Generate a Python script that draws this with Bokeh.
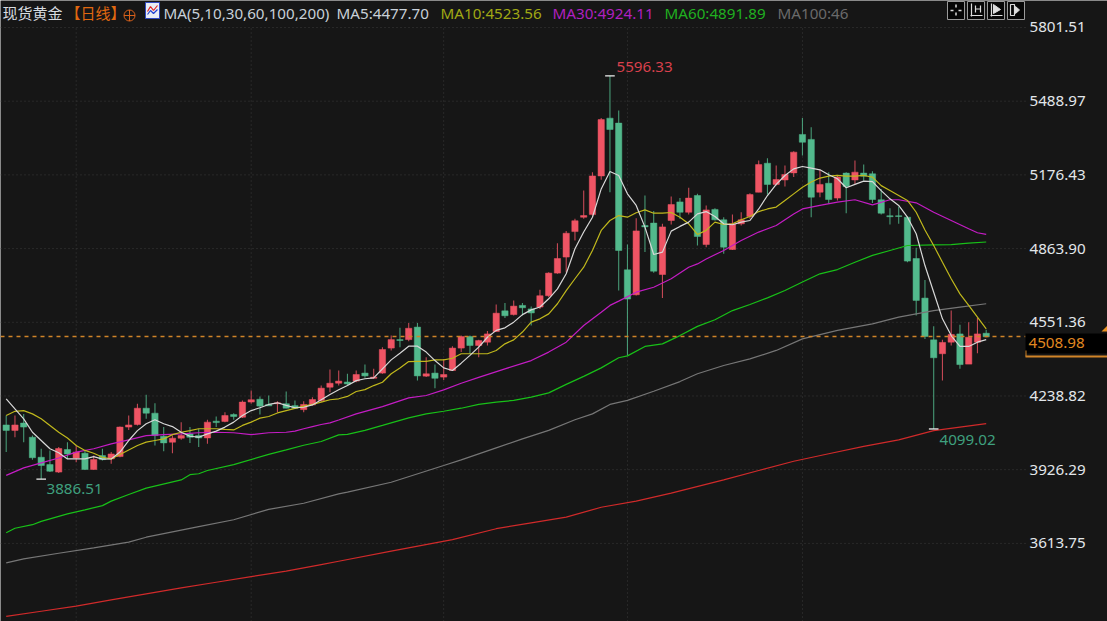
from bokeh.embed import file_html
from bokeh.models import BoxAnnotation, FixedTicker, Label, PolyAnnotation, PrintfTickFormatter, Range1d
from bokeh.plotting import figure, ColumnDataSource
from bokeh.resources import INLINE

# Daily candles, prices
opens = [4116, 4093, 4124, 4064, 3979, 3948, 3916, 4012, 3976, 3996, 3927, 3986, 3972, 3982, 4107, 4118,
         4187, 4166, 4068, 4043, 4060, 4078, 4071, 4061, 4132, 4131, 4160, 4149, 4213, 4225, 4203, 4206,
         4206, 4198, 4181, 4201, 4220, 4276, 4293, 4298, 4302, 4336, 4314, 4336, 4442, 4478, 4478, 4531,
         4323, 4336, 4319, 4347, 4442, 4491, 4453, 4467, 4512, 4600, 4584, 4623, 4608, 4616, 4664, 4760,
         4828, 4936, 4997, 5008, 5172, 5417, 5396, 4774, 4668, 4962, 4972, 4754, 4983, 5062, 5018, 5089,
         4881, 5030, 4986, 4860, 4969, 5000, 5103, 5226, 5136, 5155, 5185, 5348, 5327, 5103, 5141, 5078,
         5184, 5155, 5184, 5181, 5071, 5003, 5003, 4997, 4822, 4654, 4477, 4418, 4467, 4502, 4374, 4467,
         4505]
highs = [4156, 4156, 4163, 4071, 4015, 4008, 4022, 4043, 4029, 4008, 3986, 4015, 4001, 4109, 4156, 4206,
         4244, 4208, 4107, 4071, 4128, 4107, 4100, 4138, 4152, 4170, 4166, 4220, 4262, 4237, 4241, 4217,
         4258, 4220, 4217, 4234, 4283, 4351, 4347, 4333, 4347, 4372, 4354, 4446, 4495, 4528, 4548, 4548,
         4403, 4372, 4396, 4450, 4495, 4495, 4477, 4514, 4627, 4633, 4644, 4633, 4618, 4689, 4764, 4887,
         4938, 4990, 5110, 5188, 5418, 5596.33, 5450, 4881, 4993, 5089, 5023, 4969, 5085, 5078, 5122, 5096,
         5047, 5035, 4997, 5008, 5018, 5099, 5237, 5247, 5216, 5216, 5277, 5418, 5379, 5198, 5188, 5174,
         5188, 5237, 5220, 5192, 5117, 5035, 5042, 5000, 4867, 4731, 4535, 4477, 4601, 4541, 4552, 4570,
         4520]
lows = [4001, 4064, 4043, 3968, 3886.51, 3916, 3912, 3972, 3958, 3926, 3926, 3965, 3951, 3979, 4095, 4114,
        4142, 4029, 4005, 3996, 4053, 4039, 4022, 4036, 4107, 4128, 4138, 4146, 4206, 4160, 4198, 4170,
        4187, 4184, 4170, 4198, 4213, 4255, 4283, 4283, 4297, 4316, 4312, 4333, 4432, 4446, 4471, 4305,
        4319, 4272, 4307, 4347, 4425, 4418, 4403, 4453, 4510, 4570, 4580, 4580, 4538, 4608, 4658, 4757,
        4764, 4898, 4990, 5004, 5156, 5103, 4686, 4411, 4665, 4849, 4761, 4654, 4966, 4990, 5009, 4877,
        4870, 4983, 4842, 4858, 4962, 4990, 5103, 5093, 5131, 5127, 5167, 5259, 4997, 5082, 5054, 5068,
        5014, 5136, 5153, 5057, 5008, 4966, 4969, 4806, 4580, 4481, 4099.02, 4305, 4453, 4354, 4375, 4420,
        4488]
closes = [4093, 4116, 4107, 3977, 3944, 3920, 4016, 3993, 4001, 3927, 3969, 3969, 3993, 4107, 4116, 4187,
          4166, 4071, 4040, 4060, 4071, 4064, 4061, 4128, 4126, 4156, 4152, 4213, 4223, 4196, 4197, 4210,
          4187, 4187, 4203, 4224, 4272, 4293, 4302, 4290, 4330, 4324, 4319, 4436, 4478, 4474, 4526, 4324,
          4333, 4314, 4330, 4442, 4491, 4453, 4474, 4502, 4590, 4579, 4620, 4613, 4591, 4664, 4760, 4822,
          4929, 4982, 5004, 5172, 5411, 5369, 4856, 4650, 4939, 4956, 4768, 4956, 5051, 5018, 5078, 4915,
          5028, 4986, 4870, 4969, 4986, 5093, 5220, 5136, 5157, 5178, 5273, 5315, 5082, 5136, 5072, 5167,
          5127, 5188, 5171, 5072, 5014, 4999, 5000, 4811, 4644, 4491, 4401, 4466, 4500, 4372, 4488, 4502,
          4490]

# Moving averages
ma5 = [4227, 4184, 4142, 4085, 4050, 4015, 3998, 3972, 3972, 3972, 3982, 3971, 3972, 4001, 4050, 4092,
       4121, 4138, 4121, 4109, 4085, 4068, 4064, 4078, 4090, 4107, 4128, 4156, 4177, 4189, 4203, 4210,
       4199, 4189, 4191, 4201, 4223, 4245, 4265, 4283, 4304, 4312, 4316, 4354, 4392, 4420, 4450, 4450,
       4425, 4389, 4358, 4347, 4378, 4411, 4446, 4488, 4517, 4528, 4552, 4584, 4604, 4616, 4651, 4693,
       4757, 4863, 4934, 4997, 5117, 5191, 5174, 5096, 5047, 4955, 4839, 4849, 4938, 4958, 4976, 5011,
       5021, 5000, 4969, 4965, 4976, 4983, 5032, 5089, 5136, 5174, 5202, 5212, 5205, 5198, 5177, 5160,
       5122, 5136, 5150, 5148, 5110, 5075, 5047, 4997, 4927, 4792, 4679, 4566, 4495, 4449, 4449, 4467,
       4477.70]
ma10 = [4156, 4174, 4177, 4163, 4142, 4114, 4085, 4061, 4029, 4008, 3996, 3979, 3972, 3991, 4010, 4029,
        4043, 4050, 4057, 4075, 4085, 4092, 4100, 4100, 4100, 4097, 4095, 4114, 4128, 4145, 4152, 4167,
        4177, 4186, 4196, 4203, 4213, 4223, 4227, 4237, 4258, 4266, 4283, 4297, 4333, 4358, 4385, 4386,
        4386, 4392, 4392, 4399, 4418, 4418, 4418, 4418, 4432, 4460, 4477, 4510, 4552, 4566, 4587, 4630,
        4686, 4736, 4785, 4856, 4941, 4983, 5004, 4997, 5016, 5028, 5014, 5014, 5017, 4997, 4969, 4924,
        4941, 4976, 4966, 4969, 4986, 5000, 5021, 5032, 5040, 5068, 5096, 5124, 5146, 5163, 5171, 5174,
        5171, 5171, 5174, 5167, 5131, 5110, 5089, 5068, 5018, 4943, 4877, 4806, 4736, 4672, 4623, 4573,
        4523.56]
ma30_idx = [0, 2, 4, 6, 8, 10, 12, 14, 16, 18, 20, 22, 24, 26, 28, 30, 32, 33, 34, 35, 36, 37, 38, 40, 43,
            46, 48, 50, 52, 54, 57, 60, 62, 64, 66, 68, 69, 70, 72, 74, 76, 78, 79, 80, 82, 84, 86, 88,
            90, 91, 93, 95, 97, 99, 101, 102, 104, 106, 108, 110, 111, 112]
ma30 = [3902, 3934, 3955, 3976, 4001, 4015, 4036, 4053, 4071, 4075, 4078, 4083, 4085, 4083, 4075, 4083,
        4085, 4090, 4100, 4109, 4118, 4125, 4137, 4163, 4194, 4231, 4241, 4265, 4293, 4318, 4354, 4389,
        4425, 4467, 4538, 4594, 4623, 4641, 4679, 4700, 4736, 4785, 4799, 4820, 4856, 4898, 4934, 4962,
        5011, 5032, 5047, 5061, 5071, 5049, 5071, 5071, 5058, 5018, 4983, 4948, 4931, 4924.11]
ma60_idx = [0, 1, 3, 4, 7, 9, 11, 12, 14, 16, 20, 21, 22, 23, 26, 30, 32, 34, 36, 38, 39, 41, 43, 46, 48,
            50, 52, 54, 56, 58, 60, 62, 64, 66, 68, 70, 71, 73, 75, 77, 79, 81, 83, 85, 87, 89, 91, 93,
            95, 97, 99, 101, 103, 106, 108, 110, 112]
ma60 = [3659, 3678, 3693, 3707, 3739, 3756, 3774, 3793, 3821, 3848, 3883, 3905, 3909, 3923, 3948, 3991,
        4010, 4030, 4046, 4074, 4076, 4093, 4114, 4146, 4163, 4174, 4187, 4203, 4213, 4220, 4234, 4252,
        4288, 4322, 4358, 4401, 4409, 4449, 4460, 4495, 4534, 4562, 4601, 4627, 4655, 4686, 4722, 4757,
        4775, 4806, 4835, 4856, 4877, 4880, 4881, 4887, 4891.89]
ma100_idx = [0, 2, 6, 10, 14, 16, 22, 26, 30, 34, 38, 39, 44, 50, 52, 56, 59, 62, 65, 67, 69, 71, 74, 77,
             79, 82, 85, 88, 91, 95, 99, 102, 106, 109, 112]
ma100 = [3531, 3548, 3572, 3595, 3619, 3640, 3685, 3714, 3758, 3784, 3824, 3831, 3873, 3944, 3968, 4019,
         4057, 4093, 4138, 4163, 4203, 4220, 4259, 4300, 4333, 4368, 4396, 4432, 4481, 4517, 4545, 4573,
         4601, 4616, 4630]
ma200_idx = [0, 4, 8, 12, 16, 20, 24, 28, 32, 36, 38, 44, 51, 56, 60, 64, 68, 72, 76, 82, 86, 90, 94, 98,
             102, 106, 109, 112]
ma200 = [3304, 3326, 3348, 3374, 3400, 3425, 3449, 3473, 3496, 3524, 3538, 3581, 3630, 3676, 3701, 3725,
         3767, 3793, 3827, 3883, 3923, 3962, 3994, 4025, 4053, 4092, 4107, 4122]

y_ticks = [5801.51, 5488.97, 5176.43, 4863.90, 4551.36, 4238.82, 3926.29, 3613.75]
month_starts = [8, 28, 50, 71, 91]
last_line = 4491
last_price = "4508.98"
high_label = "5596.33"
low_labels = ["3886.51", "4099.02"]

BG = "#161616"
UP = "#ef5464"
DOWN = "#52b98c"
UI = "Noto Sans"
CJK = "Noto Sans CJK SC"
ORANGE = "#d08428"
GRID = "#3c3c3c"


# screen pixel (reference picture) to chart coordinates, only used for the furniture
def fx(px):
    return (px - 5.7) / 8.75


def fy(py):
    return 5916 - 4.2407 * py


p = figure(width=1107, height=621, output_backend="svg", toolbar_location=None,
           x_range=Range1d(fx(0), fx(1107)), y_range=Range1d(fy(621), fy(0)),
           y_axis_location="right", min_border_left=0, min_border_right=0,
           min_border_top=0, min_border_bottom=0,
           background_fill_color=BG, border_fill_color=BG, outline_line_color=None)
# cover the page margin, the reference is dark up to the window edge
p.styles = {"position": "absolute", "left": "0px", "top": "0px"}

p.xaxis.visible = False
p.xgrid.visible = False
p.ygrid.visible = False

# the axis labels sit over the dark right hand strip of the plot
p.yaxis.ticker = FixedTicker(ticks=y_ticks)
p.yaxis.formatter = PrintfTickFormatter(format="%.2f")
p.yaxis.axis_line_color = None
p.yaxis.major_tick_line_color = None
p.yaxis.minor_tick_line_color = None
p.yaxis.major_tick_out = 0
p.yaxis.major_label_standoff = -78
p.yaxis.major_label_text_font = UI
p.yaxis.major_label_text_font_size = "15.2px"
p.yaxis.major_label_text_color = "#e2e6ea"

# price grid and month separators
p.segment(fx(0), y_ticks, fx(1026), y_ticks, line_color=GRID, line_dash="1 3")
p.segment(month_starts, fy(621), month_starts, y_ticks[0], line_color=GRID, line_dash="1 3")

# candles
idx = list(range(len(opens)))
colors = [UP if c >= o else DOWN for o, c in zip(opens, closes)]
source = ColumnDataSource(data=dict(
    i=idx,
    high=highs,
    low=lows,
    top=[max(o, c) for o, c in zip(opens, closes)],
    bottom=[min(o, c) for o, c in zip(opens, closes)],
    color=colors,
))
p.segment("i", "high", "i", "low", source=source, line_color="color", line_width=1.1, line_alpha=0.8)
p.vbar("i", width=0.72, top="top", bottom="bottom", source=source, fill_color="color", line_color="color",
       line_width=0.5)

# moving averages
p.line(ma200_idx, ma200, line_color="#d02a2a", line_width=1.2)
p.line(ma100_idx, ma100, line_color="#767676", line_width=1.2)
p.line(ma60_idx, ma60, line_color="#18c018", line_width=1.2)
p.line(ma30_idx, ma30, line_color="#c41cc4", line_width=1.2)
p.line(idx, ma10, line_color="#c0b81c", line_width=1.2)
p.line(idx, ma5, line_color="#d8d8d8", line_width=1.2)

# white ticks on highest and lowest candles
marks = [highs.index(max(highs)), lows.index(min(lows)), 106]
mark_y = [highs[marks[0]], lows[marks[1]], lows[106]]
p.segment([m - 0.55 for m in marks], mark_y, [m + 0.55 for m in marks], mark_y, line_color="#f0f0f0", line_width=1.3)

# last price line and box
p.segment(fx(0), last_line, fx(1025), last_line, line_color=ORANGE, line_dash="4 4", line_width=1.4)
p.add_layout(BoxAnnotation(left=fx(1025), right=fx(1107), top=fy(333), bottom=fy(353), fill_color="#000000",
                           fill_alpha=1, line_color=None))
p.add_layout(BoxAnnotation(left=fx(1025), right=fx(1107), top=fy(355), bottom=fy(357), fill_color=ORANGE,
                           fill_alpha=1, line_color=None))
p.add_layout(BoxAnnotation(left=fx(1025), right=fx(1026), top=fy(350), bottom=fy(356), fill_color=ORANGE,
                           fill_alpha=1, line_color=None))
p.add_layout(PolyAnnotation(xs=[fx(1101), fx(1107), fx(1107)], ys=[fy(331), fy(325), fy(331)],
                            fill_color="#e89020", fill_alpha=1, line_color=None))


def add_text(text, px, py, color, font=UI, size="15.2px"):
    p.add_layout(Label(x=fx(px), y=fy(py), text=text, text_color=color, text_font=font, text_font_size=size,
                       text_baseline="middle", text_align="left"))


add_text(last_price, 1028, 342.5, "#e08820")
add_text(high_label, 616, 66, "#d8404c")
add_text(low_labels[0], 46, 488, "#3fa07e")
add_text(low_labels[1], 939, 439, "#3fa07e")

# header
add_text("现货黄金", 2, 12, "#d8dce0", CJK, "15px")
add_text("【日线】", 65, 12, "#e06810", CJK, "15px")
add_text("MA(5,10,30,60,100,200)", 163, 12.5, "#c8d0d8")
add_text("MA5:4477.70", 336, 12.5, "#c8d0d8")
add_text("MA10:4523.56", 440, 12.5, "#a0a814")
add_text("MA30:4924.11", 552, 12.5, "#b020c0")
add_text("MA60:4891.89", 664, 12.5, "#20b020")
add_text("MA100:46", 777, 12.5, "#6a6a6a")

p.scatter([fx(129)], [fy(15)], marker="circle_cross", size=11, fill_color=None, line_color="#d8601a")

# little chart icon next to the MA text
p.quad(left=[fx(145)], right=[fx(159)], top=[fy(2)], bottom=[fy(18)], fill_color="#e8ecf4", line_color="#3048c0")
p.line([fx(147), fx(150), fx(153), fx(157)], [fy(11), fy(6), fy(10), fy(5)], line_color="#e02020", line_width=1.2)
p.line([fx(147), fx(150), fx(153), fx(157)], [fy(14), fy(10), fy(13), fy(9)], line_color="#2040d0", line_width=1.2)

# toolbar buttons top right
btn_left = [947, 967, 987, 1007]
p.quad(left=[fx(b) for b in btn_left], right=[fx(b + 17) for b in btn_left], top=[fy(1)] * 4, bottom=[fy(19)] * 4,
       fill_color="#060606", line_color="#9a9a9a")
g = "#dcdcdc"
# crosshair
p.segment([fx(950), fx(958), fx(955.5), fx(955.5)], [fy(10), fy(10), fy(4), fy(12)],
          [fx(953), fx(961), fx(955.5), fx(955.5)], [fy(10), fy(10), fy(7), fy(15)], line_color=g, line_width=1.5)
# axis style buttons
for b in btn_left[1:3]:
    p.segment([fx(b + 4), fx(b + 3)], [fy(3), fy(15)], [fx(b + 4), fx(b + 15)], [fy(16), fy(15)], line_color=g,
              line_width=1.2)
p.segment([fx(975), fx(980)], [fy(5), fy(5)], [fx(975), fx(980)], [fy(12), fy(12)], line_color=g, line_width=1.2)
p.segment([fx(975)], [fy(8.5)], [fx(980)], [fy(8.5)], line_color=g, line_width=1.2)
p.patch([fx(993), fx(1000), fx(993)], [fy(4), fy(9), fy(13)], fill_color=g, line_color=g)
p.quad(left=[fx(1010)], right=[fx(1014)], top=[fy(4)], bottom=[fy(15)], fill_color=None, line_color=g, line_width=1.2)
p.patch([fx(1015), fx(1019), fx(1015)], [fy(6), fy(9.5), fy(13)], fill_color=g, line_color=g)

open("out.html", "w").write(file_html(p, INLINE))
